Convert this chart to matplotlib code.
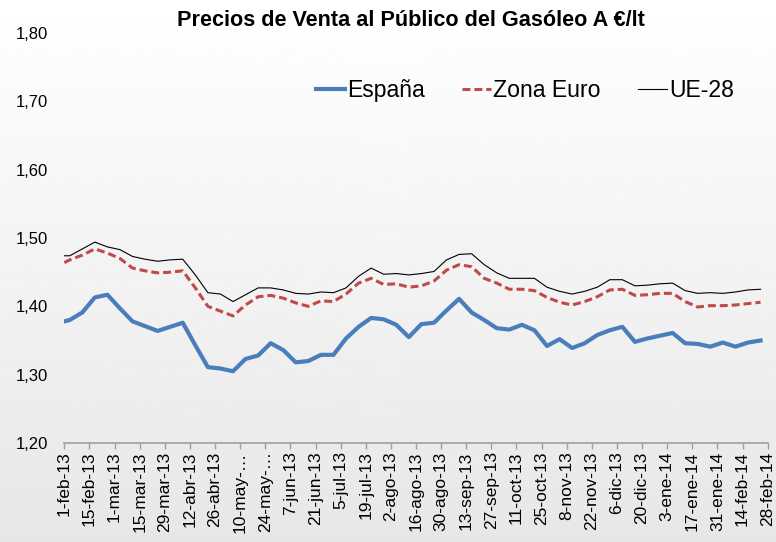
import numpy as np
import pandas as pd
import matplotlib.pyplot as plt

plt.rcParams['font.family'] = ['Liberation Sans', 'DejaVu Sans']

# weekly prices, first point 1-feb-13 then Mondays up to 24-feb-14
dates = [pd.Timestamp('2013-02-01')] + list(pd.date_range('2013-02-04', '2014-02-24', freq='7D'))

espana = [1.378, 1.380, 1.391, 1.413, 1.417, 1.397, 1.378, 1.371, 1.364, 1.370,
          1.376, 1.343, 1.311, 1.309, 1.305, 1.323, 1.328, 1.346, 1.336, 1.318,
          1.320, 1.329, 1.329, 1.353, 1.370, 1.383, 1.381, 1.373, 1.355, 1.374,
          1.376, 1.394, 1.411, 1.391, 1.380, 1.368, 1.366, 1.373, 1.365, 1.342,
          1.352, 1.339, 1.346, 1.358, 1.365, 1.370, 1.348, 1.353, 1.357, 1.361,
          1.346, 1.345, 1.341, 1.347, 1.341, 1.347, 1.350]

zona_euro = [1.464, 1.468, 1.475, 1.484, 1.478, 1.470, 1.456, 1.452, 1.449, 1.450,
             1.452, 1.427, 1.400, 1.393, 1.386, 1.402, 1.414, 1.416, 1.412, 1.405,
             1.400, 1.408, 1.407, 1.418, 1.434, 1.441, 1.432, 1.433, 1.428, 1.430,
             1.437, 1.453, 1.461, 1.458, 1.441, 1.434, 1.425, 1.425, 1.423, 1.413,
             1.406, 1.402, 1.407, 1.414, 1.424, 1.425, 1.416, 1.417, 1.419, 1.419,
             1.407, 1.399, 1.401, 1.401, 1.402, 1.404, 1.406]

ue28 = [1.474, 1.474, 1.484, 1.494, 1.487, 1.483, 1.473, 1.469, 1.466, 1.468,
        1.469, 1.446, 1.420, 1.418, 1.407, 1.417, 1.427, 1.427, 1.424, 1.419,
        1.418, 1.421, 1.420, 1.427, 1.444, 1.456, 1.447, 1.448, 1.446, 1.448,
        1.451, 1.468, 1.476, 1.477, 1.461, 1.449, 1.441, 1.441, 1.441, 1.428,
        1.422, 1.418, 1.422, 1.428, 1.439, 1.439, 1.430, 1.431, 1.433, 1.434,
        1.423, 1.419, 1.420, 1.419, 1.421, 1.424, 1.425]

tick_labels = ['1-feb-13', '15-feb-13', '1-mar-13', '15-mar-13', '29-mar-13', '12-abr-13',
               '26-abr-13', '10-may-…', '24-may-…', '7-jun-13', '21-jun-13', '5-jul-13',
               '19-jul-13', '2-ago-13', '16-ago-13', '30-ago-13', '13-sep-13', '27-sep-13',
               '11-oct-13', '25-oct-13', '8-nov-13', '22-nov-13', '6-dic-13', '20-dic-13',
               '3-ene-14', '17-ene-14', '31-ene-14', '14-feb-14', '28-feb-14']
y_ticks = [1.20, 1.30, 1.40, 1.50, 1.60, 1.70, 1.80]

start = pd.Timestamp('2013-02-01')
x = np.array([(d - start).days for d in dates])
tick_pos = np.arange(len(tick_labels)) * 14

fig = plt.figure(figsize=(7.76, 5.42), dpi=100)

# gradient background
bg = fig.add_axes([0, 0, 1, 1], zorder=0)
grad = np.linspace(1.0, 0.905, 256).reshape(-1, 1)
bg.imshow(grad, cmap='gray', vmin=0, vmax=1, aspect='auto', extent=[0, 1, 0, 1])
bg.axis('off')

ax = fig.add_axes([0.0829, 0.1827, 0.9064, 0.7563], zorder=1)
ax.patch.set_alpha(0)

ax.plot(x, espana, color='#4a7ebb', lw=3, solid_joinstyle='round', label='España')
ax.plot(x, zona_euro, color='#be4b48', lw=2.2, dashes=(2.6, 1.3), label='Zona Euro')
ax.plot(x, ue28, color='black', lw=0.8, label='UE-28')

ax.set_xlim(0, tick_pos[-1])
ax.set_ylim(1.20, 1.80)
ax.set_xticks(tick_pos)
ax.set_xticklabels(tick_labels, rotation=90, fontsize=12.5)
ax.set_yticks(y_ticks)
ax.set_yticklabels([f'{v:.2f}'.replace('.', ',') for v in y_ticks], fontsize=12)
ax.tick_params(axis='y', length=0, pad=12)
ax.tick_params(axis='x', length=4, width=1, color='#a0a0a0', pad=2)

for s in ['top', 'right', 'left']:
    ax.spines[s].set_visible(False)
ax.spines['bottom'].set_color('#a0a0a0')
ax.spines['bottom'].set_linewidth(1.2)

ax.legend(loc='upper left', bbox_to_anchor=(0.358, 0.888), ncol=3, frameon=False,
          fontsize=16.6, handlelength=1.26, handletextpad=0.1, columnspacing=1.6,
          borderaxespad=0, borderpad=0)

fig.text(0.529, 0.962, 'Precios de Venta al Público del Gasóleo A €/lt',
         ha='center', va='center', fontsize=15.6, fontweight='bold')

fig.savefig('out.png', dpi=100)
